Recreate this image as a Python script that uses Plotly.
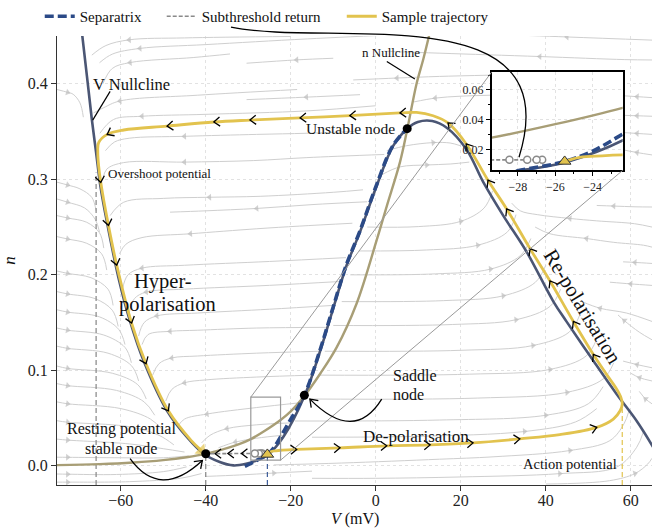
import math
import plotly.graph_objects as go

# ---------------------------------------------------------------- geometry
W, H = 652, 531
MARGIN = dict(l=57, r=0, t=33, b=46)
X_RANGE = [-75, 65]
Y_RANGE = [-0.02, 0.45]
INSET_X = [-29.4, -22.4]
INSET_Y = [0.006, 0.072]
INSET_DOM_X = [0.7305, 0.9507]
INSET_DOM_Y = [0.7007, 0.9197]

PX_V = (W - MARGIN["l"] - MARGIN["r"]) / (X_RANGE[1] - X_RANGE[0])
PX_N = (H - MARGIN["t"] - MARGIN["b"]) / (Y_RANGE[1] - Y_RANGE[0])

FONT = "Liberation Serif"
C_TRAJ = "#e2c34e"
C_VNULL = "#4b5674"
C_NNULL = "#a89e76"
C_SEP = "#2b4a87"
C_STREAM = "#cfcfcf"
C_STREAM_ARROW = "#bdbdbd"
C_GUIDE = "#858585"

# ---------------------------------------------------------------- data
# n nullcline
N_NULL_V = [-75, -65, -57, -50, -44.5, -40, -35, -32, -29.4, -26, -22.4, -20, -17,
            -13, -9.2, -4.5, 0.2, 2.6, 5.7, 7.4, 9.6, 11.2, 12.8]
N_NULL_N = [0.0008, 0.0018, 0.0035, 0.006, 0.009, 0.0125, 0.0185, 0.023, 0.028, 0.037,
            0.048, 0.057, 0.072, 0.097, 0.124, 0.17, 0.236, 0.272, 0.318, 0.352, 0.400,
            0.426, 0.455]

# V nullcline (N-shaped)
V_NULL_V = [-69.3, -67.95, -66.8, -65.8, -64.8, -63.25, -60.5, -57.8, -54.6, -49.1,
            -44.4, -40.5, -36.7, -33.5, -30.5, -28.0, -25.3, -21.8, -16.7, -13.1, -10.0,
            -6.85, -3.7, 0.2, 4.1, 7.4, 9.9, 13.3, 16.7, 21.4, 25.3, 30.0, 35.5, 41.8,
            44.9, 51.2, 56.7, 61.4, 65.5]
V_NULL_N = [0.460, 0.4077, 0.3626, 0.328, 0.2933, 0.2552, 0.1963, 0.1512, 0.1097, 0.0577,
            0.030, 0.0127, 0.004, 0.0005, 0.0022, 0.0058, 0.012, 0.030, 0.074, 0.120, 0.165,
            0.210, 0.245, 0.293, 0.335, 0.353, 0.360, 0.361, 0.354, 0.331, 0.297, 0.262,
            0.224, 0.172, 0.151, 0.110, 0.075, 0.047, 0.018]

# separatrix
SEP_V = [-30.8, -29.4, -27.9, -25.5, -24.0, -22.4, -20.5, -16.8, -13.2, -10.1, -6.95,
         -3.8, 0.1, 4.0, 7.4]
SEP_N = [-0.0005, 0.0025, 0.006, 0.012, 0.019, 0.0304, 0.045, 0.074, 0.120, 0.165, 0.210,
         0.245, 0.293, 0.335, 0.353]

# sample trajectory (starts at the triangle, ends at the resting state)
TRAJ_V = [-25.5, -24.7, -23.5, -22.4, -18.6, -8.4, 2.6, 12.8, 22.9, 33.9, 43.3, 52.0,
          55.9, 57.5, 58.0, 57.7, 56.7, 54.3, 51.2, 46.5, 41.0, 36.3, 30.8, 26.4, 21.3,
          17.0, 13.5, 9.6, 5.7, -6.1, -17.8, -29.6, -38.1, -49.1, -59.3, -63.2, -65.2,
          -65.4, -65.2, -64.7, -62.9, -60.95, -57.45, -54.05, -48.8, -43.4, -41.0]
TRAJ_N = [0.012, 0.0148, 0.0158, 0.0164, 0.0172, 0.0189, 0.021, 0.022, 0.0241, 0.0283,
          0.0327, 0.0403, 0.049, 0.0577, 0.0647, 0.0715, 0.0802, 0.0958, 0.1166, 0.1512,
          0.1936, 0.2274, 0.269, 0.299, 0.337, 0.359, 0.3665, 0.370, 0.3695, 0.3667,
          0.3643, 0.362, 0.360, 0.3557, 0.3516, 0.347, 0.3383, 0.328, 0.3141, 0.2968,
          0.2518, 0.2102, 0.1495, 0.107, 0.0577, 0.0265, 0.016]
TRAJ_CHEVRONS = [4, 5, 6, 7, 8, 9, 11, 18, 19, 20, 21, 22, 23, 24, 25, 28, 29, 30, 31,
                 32, 33, 35, 39, 40, 41, 42, 43, 44]

# subthreshold return to rest
SUB_V = [-26.7, -27.0, -27.5, -28.45, -31.6, -34.8, -37.8, -40.0]
SUB_N = [0.0131, 0.0131, 0.0131, 0.0131, 0.0130, 0.0129, 0.0128, 0.0127]
SUB_CHEVRONS = [4, 5, 6]
SUB_SAMPLES = 4

# fixed points: stable node, saddle, unstable node
NODES_V = [-40.0, -16.8, 7.4]
NODES_N = [0.0127, 0.074, 0.353]

# reference potentials (dashed drop lines)
OVERSHOOT = (-65.8, 0.307)
REST = (-40.0, 0.0127)
THRESHOLD = (-25.5, 0.012)
ACTION_PEAK = (58.0, 0.060)

# streamlines of the vector field, listed in the direction of flow
STREAM_UPPER = [
    [(-20, 0.4495), (-45, 0.448), (-58, 0.446), (-63.5, 0.44), (-66.8, 0.43)],
    [(8, 0.452), (-16, 0.447), (-40, 0.441), (-55.5, 0.437), (-62, 0.431), (-65, 0.422)],
    [(-34.3, 0.4312), (-42.8, 0.4275), (-57.8, 0.4222), (-62, 0.416), (-64.2, 0.40)],
    [(-10, 0.4267), (-18.6, 0.425), (-30.4, 0.4215)],
    [(27, 0.409), (15, 0.4077), (5, 0.406), (-5.3, 0.404)],
    [(65, 0.4249), (58.6, 0.4253), (38.6, 0.4285), (15.1, 0.432), (2, 0.434)],
    [(65, 0.4457), (45, 0.449), (22.9, 0.4527)],
    [(-3.7, 0.3886), (-16.3, 0.386), (-30.4, 0.3834)],
    [(-18.5, 0.394), (-42, 0.388), (-60.2, 0.382), (-64, 0.375), (-66.4, 0.3695)],
    [(0, 0.377), (-16.2, 0.3716), (-40, 0.368), (-55, 0.366), (-61.7, 0.3626), (-64.9, 0.3482)],
    [(65, 0.3855), (61.5, 0.3865), (58, 0.3875)],
    [(65, 0.366), (61.5, 0.3665), (58, 0.367)],
    [(65, 0.347), (61.5, 0.348), (58, 0.349)],
    [(65, 0.3255), (61.5, 0.328), (58, 0.331)],
    [(27, 0.388), (20, 0.387), (14, 0.385), (9, 0.381)],
]
STREAM_MIDDLE = [
    [(2, 0.326), (-16.2, 0.3227), (-28.7, 0.3196), (-45, 0.318), (-59.3, 0.3175), (-63.3, 0.3106), (-64.2, 0.30)],
    [(-5, 0.35), (-16.2, 0.3482), (-28, 0.347), (-45, 0.345), (-58, 0.343), (-61.5, 0.339), (-63.6, 0.33)],
    [(-3, 0.289), (-10, 0.2864), (-27.2, 0.2822), (-39.1, 0.2812), (-50, 0.28), (-59.3, 0.276), (-62.5, 0.262)],
    [(-2, 0.2765), (-15, 0.2735), (-28, 0.2695), (-40, 0.267), (-48.4, 0.2656)],
    [(-5.5, 0.254), (-18, 0.251), (-28, 0.2482), (-43.6, 0.243), (-55, 0.239), (-58.8, 0.232), (-60.3, 0.222)],
    [(-7, 0.218), (-25, 0.214), (-45, 0.21), (-55, 0.207), (-58.3, 0.2), (-59.6, 0.185)],
    [(-8.5, 0.193), (-25, 0.189), (-45, 0.185), (-54, 0.182), (-56.8, 0.175), (-58, 0.16)],
    [(-10, 0.168), (-25, 0.164), (-42, 0.16), (-51.5, 0.157), (-54.5, 0.15), (-55.8, 0.136)],
    [(-11.5, 0.145), (-28, 0.1443), (-42, 0.142), (-48.4, 0.1409), (-53.6, 0.1374), (-55, 0.127)],
    [(-13, 0.12), (-28, 0.118), (-42, 0.115), (-48, 0.113), (-51, 0.107), (-52.5, 0.095)],
    [(-15, 0.095), (-28, 0.093), (-40, 0.09), (-45, 0.087), (-48, 0.08), (-49.4, 0.068)],
    [(-18, 0.066), (-28, 0.0611), (-39.7, 0.0543), (-45, 0.049), (-46.5, 0.042)],
    [(-20, 0.045), (-28, 0.043), (-35, 0.039), (-39, 0.032), (-41, 0.024)],
    [(-22, 0.032), (-28, 0.029), (-33, 0.025), (-37, 0.019)],
]
STREAM_LEFT = [
    [(-75, 0.394), (-72.5, 0.391), (-71.2, 0.389), (-69.6, 0.38), (-68.8, 0.365)],
    [(-75, 0.297), (-72.5, 0.294), (-69.6, 0.29), (-66.8, 0.281), (-65.8, 0.267)],
    [(-75, 0.2794), (-72.5, 0.276), (-68.5, 0.27), (-66, 0.258), (-65, 0.245)],
    [(-75, 0.262), (-72.5, 0.2595), (-68, 0.255), (-65, 0.244), (-64, 0.228)],
    [(-75, 0.24), (-72.5, 0.2375), (-68, 0.233), (-64.5, 0.222), (-63.3, 0.205)],
    [(-75, 0.204), (-72.5, 0.2015), (-67, 0.197), (-63, 0.185), (-61.8, 0.168)],
    [(-75, 0.1824), (-72.5, 0.18), (-66, 0.175), (-62, 0.163), (-60.6, 0.146)],
    [(-75, 0.1634), (-72.5, 0.161), (-65, 0.156), (-60.5, 0.143), (-59, 0.127)],
    [(-75, 0.1443), (-72.5, 0.142), (-64, 0.137), (-59, 0.124), (-57.5, 0.108)],
    [(-75, 0.1253), (-72.5, 0.123), (-63, 0.118), (-57.5, 0.105), (-55.8, 0.089)],
    [(-75, 0.1045), (-72.5, 0.102), (-62, 0.097), (-56, 0.085), (-54, 0.07)],
    [(-75, 0.0861), (-72.5, 0.084), (-61, 0.079), (-54.5, 0.067), (-52, 0.053)],
    [(-75, 0.067), (-72.5, 0.065), (-60, 0.06), (-53, 0.049), (-50, 0.037)],
    [(-75, 0.0473), (-72.5, 0.0457), (-58, 0.041), (-51, 0.032), (-47.5, 0.022)],
    [(-75, 0.028), (-72.5, 0.027), (-58, 0.023), (-50, 0.018), (-45, 0.0145)],
    [(-75, 0.0091), (-72.5, 0.009), (-60, 0.0085), (-50, 0.0085), (-44, 0.0105)],
    [(-75, -0.0085), (-72.5, -0.0087), (-61, -0.009), (-50, -0.006), (-44.5, -0.001)],
    [(-75, -0.017), (-72.5, -0.017), (-58, -0.0165), (-46, -0.013), (-41, -0.008)],
]
STREAM_LOWER = [
    [(-2, 0.25), (10, 0.2505), (20, 0.256), (25.5, 0.27), (27.5, 0.288)],
    [(-4, 0.225), (12, 0.226), (24, 0.231), (31, 0.245), (33, 0.263)],
    [(-6, 0.2), (14, 0.201), (27, 0.206), (34, 0.22), (36.5, 0.238)],
    [(-8, 0.172), (16, 0.173), (30, 0.178), (37.5, 0.192), (40, 0.21)],
    [(-10, 0.147), (18, 0.148), (33, 0.153), (41, 0.167), (43.5, 0.185)],
    [(-12, 0.12), (20, 0.121), (37, 0.126), (45.5, 0.14), (48, 0.158)],
    [(-13.5, 0.095), (22, 0.096), (41, 0.101), (49.5, 0.115), (52, 0.133)],
    [(-15, 0.07), (24, 0.071), (45, 0.077), (53.5, 0.091), (56, 0.108)],
    [(-19, 0.047), (15, 0.048), (40, 0.053), (50, 0.065), (53.5, 0.083)],
    [(-15, 0.03), (10, 0.031), (35, 0.036), (47, 0.046), (52, 0.06)],
    [(-24, 0.001), (-8, 0.003), (15, 0.007), (27.6, 0.0095), (45.7, 0.0161), (55.1, 0.0265), (58.4, 0.044), (59.6, 0.058)],
    [(-15, -0.013), (0, -0.013), (19.8, -0.0116), (43.3, -0.0081), (56.7, -0.0012), (61.4, 0.0195), (63, 0.036)],
    [(40, -0.019), (55, -0.0155), (61, -0.008), (64, 0.002), (65, 0.008)],
    [(-40, -0.011), (-32, -0.0095), (-24, -0.0075), (-15, -0.0055)],
    [(1.5, 0.305), (5.7, 0.313), (12, 0.315), (17.5, 0.316), (22, 0.318)],
    [(2.6, 0.33), (7.3, 0.3352), (13.5, 0.3384), (17.5, 0.338), (20, 0.335)],
]
STREAM_RIGHT = [
    [(65, 0.271), (61, 0.2712), (56, 0.272), (52, 0.2726)],
    [(65, 0.25), (60.9, 0.2535), (52, 0.2565), (45.7, 0.259), (38, 0.263), (34, 0.267), (32, 0.275)],
    [(65, 0.229), (63, 0.231), (56, 0.234), (49.6, 0.238), (41, 0.243), (37.5, 0.25)],
    [(65, 0.2119), (61, 0.213), (58.2, 0.2136)],
    [(65, 0.1889), (60, 0.1905), (55.1, 0.1923)],
    [(65, 0.1512), (59, 0.16), (52.8, 0.165), (48.5, 0.172)],
    [(65, 0.132), (62, 0.14), (58.5, 0.152), (57, 0.158)],
    [(65, 0.1027), (61.5, 0.106), (58.2, 0.1097)],
    [(65, 0.0889), (62.1, 0.0923), (60, 0.097)],
    [(65, 0.065), (63.5, 0.07), (62, 0.078)],
]


# ---------------------------------------------------------------- helpers
def chevron_path(tips, directions, depth=6.0, half=4.6):
    """Open '<'-style arrowheads: tip at each point, pointing along direction (pixels)."""
    xs, ys = [], []
    for (tx, ty), (dx, dy) in zip(tips, directions):
        length = math.hypot(dx, dy)
        ux, uy = dx / length, dy / length
        px, py = -uy, ux
        for ox, oy in [(-depth * ux + half * px, -depth * uy + half * py),
                       (0.0, 0.0),
                       (-depth * ux - half * px, -depth * uy - half * py)]:
            xs.append(tx + ox / PX_V)
            ys.append(ty - oy / PX_N)
        xs.append(None)
        ys.append(None)
    return xs, ys


def path_dirs(vs, ns, idx):
    out = []
    for i in idx:
        a, b = max(i - 1, 0), min(i + 1, len(vs) - 1)
        out.append(((vs[b] - vs[a]) * PX_V, -(ns[b] - ns[a]) * PX_N))
    return out


def curve(color, width, dash=None):
    return dict(color=color, width=width, dash=dash, shape="spline", simplify=False)


fig = go.Figure()

# ---------------------------------------------------------------- streamlines
for group, arrow_first in ((STREAM_UPPER, False), (STREAM_MIDDLE, False),
                           (STREAM_LEFT, True), (STREAM_LOWER, False), (STREAM_RIGHT, False)):
    for pts in group:
        xs = [p[0] for p in pts]
        ys = [p[1] for p in pts]
        k = 1 if arrow_first else len(pts) // 2
        sizes = [0] * len(pts)
        sizes[k] = 6
        fig.add_trace(go.Scatter(
            x=xs, y=ys, mode="lines+markers",
            line=curve(C_STREAM, 1),
            marker=dict(symbol="triangle-up", size=sizes, color=C_STREAM_ARROW,
                        angleref="previous", line=dict(width=0)),
            hoverinfo="skip", showlegend=False))

# ---------------------------------------------------------------- drop lines
for (v, n), color in ((OVERSHOOT, C_GUIDE), (REST, C_GUIDE), (THRESHOLD, "#3d5c99"),
                      (ACTION_PEAK, C_TRAJ)):
    fig.add_trace(go.Scatter(x=[v, v], y=[Y_RANGE[0], n], mode="lines",
                             line=dict(color=color, width=1.2, dash="5px,3px"),
                             hoverinfo="skip", showlegend=False))


def add_phase_curves(xa, ya, legend):
    fig.add_trace(go.Scatter(x=N_NULL_V, y=N_NULL_N, mode="lines", xaxis=xa, yaxis=ya,
                             line=curve(C_NNULL, 2.4),
                             hoverinfo="skip", showlegend=False))
    fig.add_trace(go.Scatter(x=V_NULL_V, y=V_NULL_N, mode="lines", xaxis=xa, yaxis=ya,
                             line=curve(C_VNULL, 2.6),
                             hoverinfo="skip", showlegend=False))
    fig.add_trace(go.Scatter(x=SEP_V, y=SEP_N, mode="lines", xaxis=xa, yaxis=ya,
                             name="Separatrix", legend="legend",
                             line=curve(C_SEP, 3.6, "9px,4px"),
                             hoverinfo="skip", showlegend=legend))
    fig.add_trace(go.Scatter(x=TRAJ_V, y=TRAJ_N, mode="lines", xaxis=xa, yaxis=ya,
                             name="Sample trajectory", legend="legend3",
                             line=curve(C_TRAJ, 2.8),
                             hoverinfo="skip", showlegend=legend))
    fig.add_trace(go.Scatter(x=SUB_V, y=SUB_N, mode="lines", xaxis=xa, yaxis=ya,
                             name="Subthreshold return", legend="legend2",
                             line=dict(color="#8a8a8a", width=1.6, dash="4px,2px"),
                             hoverinfo="skip", showlegend=legend))
    fig.add_trace(go.Scatter(x=SUB_V[:SUB_SAMPLES], y=SUB_N[:SUB_SAMPLES], mode="markers",
                             xaxis=xa, yaxis=ya,
                             marker=dict(symbol="circle", size=7, color="white",
                                         line=dict(color="#8a8a8a", width=1.5)),
                             hoverinfo="skip", showlegend=False))
    fig.add_trace(go.Scatter(x=[TRAJ_V[0]], y=[TRAJ_N[0]], mode="markers", xaxis=xa, yaxis=ya,
                             marker=dict(symbol="triangle-up", size=11, color=C_TRAJ,
                                         line=dict(color="#333333", width=1)),
                             hoverinfo="skip", showlegend=False))


add_phase_curves("x", "y", True)

# arrowhead that closes the trajectory at the resting state
fig.add_trace(go.Scatter(x=TRAJ_V[-2:], y=TRAJ_N[-2:], mode="markers",
                         marker=dict(symbol="triangle-up", size=[0, 12], color=C_TRAJ,
                                     angleref="previous", line=dict(width=0)),
                         hoverinfo="skip", showlegend=False))

# chevrons along the trajectory and the subthreshold return
cx, cy = chevron_path([(TRAJ_V[i], TRAJ_N[i]) for i in TRAJ_CHEVRONS],
                      path_dirs(TRAJ_V, TRAJ_N, TRAJ_CHEVRONS))
sx, sy = chevron_path([(SUB_V[i], SUB_N[i]) for i in SUB_CHEVRONS],
                      path_dirs(SUB_V, SUB_N, SUB_CHEVRONS))
fig.add_trace(go.Scatter(x=cx + sx, y=cy + sy, mode="lines",
                         line=dict(color="black", width=1.3), hoverinfo="skip",
                         showlegend=False))

# fixed points
fig.add_trace(go.Scatter(x=NODES_V, y=NODES_N, mode="markers",
                         marker=dict(color="black", size=9), hoverinfo="skip",
                         showlegend=False))

# callout leader curves (quadratic) with open arrowheads
CALLOUTS = [
    ((-57.8, 0.0075), (-50.8, -0.0357), (-40.8, 0.0057)),
    ((1.4, 0.0699), (-5.1, 0.0233), (-15.5, 0.0699)),
]
tips, dirs = [], []
for p0, pc, p2 in CALLOUTS:
    tips.append(p2)
    dirs.append(((p2[0] - pc[0]) * PX_V, -(p2[1] - pc[1]) * PX_N))
ax_, ay_ = chevron_path(tips, dirs, depth=7, half=5)
fig.add_trace(go.Scatter(x=ax_, y=ay_, mode="lines", line=dict(color="black", width=1.3),
                         hoverinfo="skip", showlegend=False))

# white backing behind the inset axes
ix0 = X_RANGE[0] + INSET_DOM_X[0] * (X_RANGE[1] - X_RANGE[0])
ix1 = X_RANGE[0] + INSET_DOM_X[1] * (X_RANGE[1] - X_RANGE[0])
iy0 = Y_RANGE[0] + INSET_DOM_Y[0] * (Y_RANGE[1] - Y_RANGE[0])
iy1 = Y_RANGE[0] + INSET_DOM_Y[1] * (Y_RANGE[1] - Y_RANGE[0])
fig.add_trace(go.Scatter(x=[ix0, ix1, ix1, ix0, ix0], y=[iy0, iy0, iy1, iy1, iy0],
                         mode="lines", fill="toself", fillcolor="white",
                         line=dict(width=0), hoverinfo="skip", showlegend=False))

# ---------------------------------------------------------------- inset
add_phase_curves("x2", "y2", False)

# ---------------------------------------------------------------- shapes
shapes = [
    dict(type="rect", xref="x", yref="y", x0=INSET_X[0], x1=INSET_X[1],
         y0=INSET_Y[0], y1=INSET_Y[1], line=dict(color="#9a9a9a", width=1.2)),
    dict(type="line", xref="x", yref="y", x0=INSET_X[0], y0=INSET_Y[1], x1=ix0, y1=iy1,
         line=dict(color="#9a9a9a", width=1)),
    dict(type="line", xref="x", yref="y", x0=INSET_X[1], y0=INSET_Y[0], x1=ix1, y1=iy0,
         line=dict(color="#9a9a9a", width=1)),
    dict(type="line", xref="x", yref="y", x0=-62.5, y0=0.392, x1=-66.6, y1=0.362,
         line=dict(color="black", width=1.2)),
    dict(type="line", xref="x", yref="y", x0=2.6, y0=0.4233, x1=9.2, y1=0.405,
         line=dict(color="black", width=1.2)),
    dict(type="path", xref="paper", yref="paper",
         path="M0.2924,1.0199 C0.4588,0.9735 0.8622,1.0951 0.7765,0.7301",
         line=dict(color="black", width=1.3)),
]
for p0, pc, p2 in CALLOUTS:
    shapes.append(dict(type="path", xref="x", yref="y",
                       path=f"M{p0[0]},{p0[1]} Q{pc[0]},{pc[1]} {p2[0]},{p2[1]}",
                       line=dict(color="black", width=1.3)))

# ---------------------------------------------------------------- labels
def label(text, x, y, size, xanchor="center", angle=0, xref="x", yref="y"):
    return dict(text=text, x=x, y=y, xref=xref, yref=yref, showarrow=False,
                xanchor=xanchor, yanchor="middle", textangle=angle,
                font=dict(family=FONT, size=size, color="#111111"))


annotations = [
    label("V Nullcline", -57.4, 0.3997, 16.5),
    label("n Nullcline", 3.6, 0.433, 13),
    label("Unstable node", 5.1, 0.353, 15.5, xanchor="right"),
    label("Overshoot potential", -63.4, 0.306, 13, xanchor="left"),
    label("Action potential", 45.7, 0.0023, 14.5),
    label("Saddle", 9.15, 0.0951, 16),
    label("node", 7.8, 0.075, 16),
    label("De-polarisation", 9.4, 0.031, 17),
    label("Hyper-", -50.1, 0.1928, 20.5),
    label("polarisation", -48.9, 0.1692, 20.5),
    label("Re-polarisation", 48.8, 0.1668, 21, angle=58.8),
    label("Resting potential", -59.8, 0.0387, 16),
    label("stable node", -60.0, 0.0185, 16),
    label("<i>V</i> (mV)", 0.5, -0.076, 16, xref="paper", yref="paper"),
]

axis_common = dict(showline=True, linecolor="#333333", linewidth=1.3, ticks="outside",
                   ticklen=5, tickwidth=1.2, tickcolor="#333333", showgrid=True,
                   gridcolor="#e2e2e2", griddash="dot", gridwidth=1, zeroline=False,
                   tickfont=dict(family=FONT, size=16, color="#222222"))
inset_common = dict(showline=True, mirror=True, linecolor="black", linewidth=1.5,
                    ticks="outside", ticklen=4, tickwidth=1, tickcolor="black",
                    showgrid=True, gridcolor="#e2e2e2", griddash="dot", zeroline=False,
                    tickfont=dict(family=FONT, size=12, color="#222222"))


def legend_box(x):
    return dict(orientation="h", x=x, y=1.044, xanchor="left", yanchor="middle",
                font=dict(family=FONT, size=15, color="#111111"),
                bgcolor="rgba(0,0,0,0)", itemwidth=30)


fig.update_layout(
    width=W, height=H, margin=MARGIN,
    paper_bgcolor="white", plot_bgcolor="white",
    font=dict(family=FONT, size=15, color="#111111"),
    xaxis=dict(range=X_RANGE, tickvals=[-60, -40, -20, 0, 20, 40, 60],
               ticklabelstandoff=-4, **axis_common),
    yaxis=dict(range=Y_RANGE, tickvals=[0.0, 0.1, 0.2, 0.3, 0.4], tickformat=".1f",
               title=dict(text="<i>n</i>", standoff=8, font=dict(family=FONT, size=17)),
               **axis_common),
    xaxis2=dict(domain=INSET_DOM_X, anchor="y2", range=INSET_X, tickvals=[-28, -26, -24],
                minor=dict(dtick=1, ticks="outside", ticklen=2, tickcolor="black",
                           showgrid=False), **inset_common),
    yaxis2=dict(domain=INSET_DOM_Y, anchor="x2", range=INSET_Y,
                tickvals=[0.02, 0.04, 0.06], tickformat=".2f",
                minor=dict(dtick=0.01, ticks="outside", ticklen=2, tickcolor="black",
                           showgrid=False), **inset_common),
    legend=legend_box(-0.029),
    legend2=legend_box(0.176),
    legend3=legend_box(0.4786),
    shapes=shapes,
    annotations=annotations,
)

fig.write_html("out.html")
